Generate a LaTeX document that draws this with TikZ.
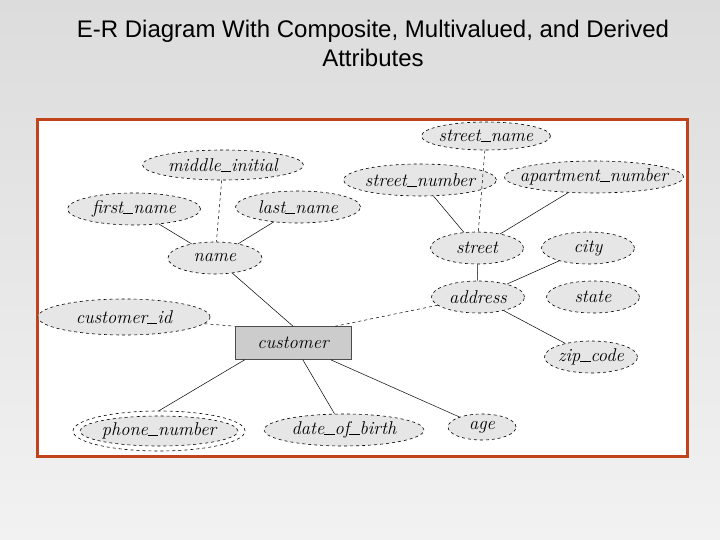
\documentclass[tikz,border=0pt]{standalone}
\usepackage{fontspec}
\newfontfamily\titlefont{Liberation Sans}
\usetikzlibrary{shapes.geometric}
\definecolor{bgtop}{HTML}{DCDCDC}
\definecolor{bgbot}{HTML}{F2F2F2}
\definecolor{frame}{HTML}{C0431B}
\definecolor{attrfill}{HTML}{E6E6E6}
\definecolor{entfill}{HTML}{CCCCCC}
\newcommand{\us}{\rule[0.2pt]{0.55em}{0.6pt}}
\tikzset{
  attrtext/.style={font=\fontsize{18.5}{21}\selectfont\itshape, inner sep=0pt},
  attr/.style={ellipse, draw, dashed, line width=0.6pt, fill=attrfill, inner sep=0pt,
    label={[attrtext]center:#1}},
  ent/.style={rectangle, draw=black!70, line width=0.6pt, fill=entfill, inner sep=0pt,
    font=\fontsize{18.5}{21}\selectfont\itshape},
  link/.style={line width=0.5pt},
  dlink/.style={line width=0.5pt, dashed}
}
\begin{document}
\begin{tikzpicture}[x=1pt,y=-1pt]
\useasboundingbox (0,0) rectangle (720,540);
\shade[top color=bgtop, bottom color=bgbot] (0,0) rectangle (720,540);
\node[font=\titlefont\fontsize{24}{29}\selectfont, align=center] (title) at (373,43)
  {E-R Diagram With Composite, Multivalued, and Derived\\Attributes};
\draw[frame, line width=3pt, fill=white] (37,120) rectangle (687,456);

\node[attr={street\us name}, minimum width=129, minimum height=28] (sname) at (486,136) {};
\node[attr={middle\us initial}, minimum width=161, minimum height=30] (mi) at (223,165) {};
\node[attr={street\us number}, minimum width=153, minimum height=32] (snum) at (420,180) {};
\node[attr={apartment\us number}, minimum width=179, minimum height=32] (apt) at (594,177) {};
\node[attr={first\us name}, minimum width=133, minimum height=32] (fn) at (134,209) {};
\node[attr={last\us name}, minimum width=125, minimum height=32] (ln) at (298,207) {};
\node[attr={name}, minimum width=94, minimum height=32] (name) at (215,258) {};
\node[attr={street}, minimum width=93, minimum height=32] (street) at (477,248) {};
\node[attr={city}, minimum width=93, minimum height=32] (city) at (588,248) {};
\node[attr={address}, minimum width=93, minimum height=32] (addr) at (478,297) {};
\node[attr={state}, minimum width=93, minimum height=32] (state) at (593,297) {};
\node[attr={customer\us id}, minimum width=172, minimum height=36] (cid) at (124,317) {};
\node[ent, minimum width=116, minimum height=33] (cust) at (293,343) {customer};
\node[attr={zip\us code}, minimum width=93, minimum height=32] (zip) at (591,357) {};
\node[ellipse, draw, dashed, line width=0.6pt, fill=white, minimum width=172, minimum height=40] (phoneo) at (159,431) {};
\node[attr={phone\us number}, minimum width=158, minimum height=30] (phone) at (159,431) {};
\node[attr={date\us of\us birth}, minimum width=160, minimum height=32] (dob) at (344,430) {};
\node[attr={age}, minimum width=68, minimum height=26] (age) at (482,427) {};

\draw[link] (fn) -- (name);
\draw[link] (ln) -- (name);
\draw[dlink] (mi) -- (name);
\draw[link] (name) -- (cust.north);
\draw[link] (snum) -- (street);
\draw[dlink] (sname) -- (street);
\draw[link] (apt) -- (street);
\draw[link] (street) -- (addr);
\draw[link] (city) -- (addr);
\draw[dlink] (addr) -- ([xshift=-16pt]cust.north east);
\draw[link] (addr) -- (zip);
\draw[dlink] (cid) -- (cust.north west);
\draw[link] ([xshift=10pt]cust.south west) -- (phoneo.north);
\draw[link] (cust) -- (dob);
\draw[link] (cust) -- (age);
\end{tikzpicture}
\end{document}
